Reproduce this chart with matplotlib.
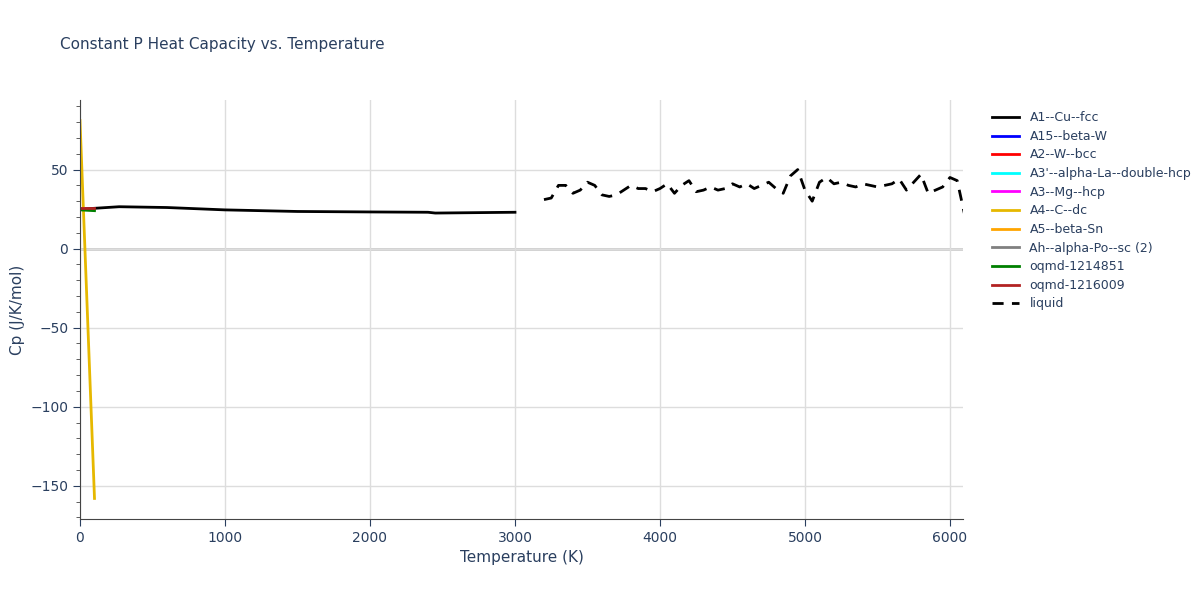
import matplotlib
matplotlib.use("Agg")
import matplotlib.pyplot as plt

fcc_T = [10, 100, 270, 600, 1000, 1500, 2000, 2400, 2450, 3000]
fcc_cp = [25, 25.5, 26.5, 26, 24.5, 23.5, 23.2, 23, 22.5, 23]
dc_T = [0, 100]
dc_cp = [81, -158]
o1_T = [0, 100]; o1_cp = [24.5, 24]
o2_T = [0, 100]; o2_cp = [25.5, 25.5]
liq_T = list(range(3200, 6101, 50))
liq_cp = [31, 32, 40, 40, 35, 37, 42, 40, 34, 33, 34, 37, 40, 38, 38, 36, 38, 41, 35, 40,
          43, 36, 37, 39, 37, 38, 41, 39, 41, 38, 40, 42, 38, 35, 46, 50, 37, 30, 42, 45,
          41, 42, 40, 39, 41, 40, 39, 40, 41, 44, 37, 42, 47, 35, 37, 39, 45, 43, 22]

fig = plt.figure(figsize=(12, 6), dpi=100)
ax = fig.add_axes([80/1200, 81/600, 883/1200, 419/600])
txt = '#2a3f5f'
for lbl, c in [("A1--Cu--fcc", None), ("A15--beta-W", "blue"), ("A2--W--bcc", "red"),
               ("A3'--alpha-La--double-hcp", "cyan"), ("A3--Mg--hcp", "magenta")]:
    if c:
        ax.plot([], [], color=c, label=lbl, lw=2)
    else:
        ax.plot(fcc_T, fcc_cp, color='black', label=lbl, lw=2)
ax.plot(dc_T, dc_cp, color='#e6b800', label="A4--C--dc", lw=2)
ax.plot([], [], color='orange', label="A5--beta-Sn", lw=2)
ax.plot([], [], color='gray', label="Ah--alpha-Po--sc (2)", lw=2)
ax.plot(o1_T, o1_cp, color='green', label="oqmd-1214851", lw=2)
ax.plot(o2_T, o2_cp, color='#b22222', label="oqmd-1216009", lw=2)
ax.plot(liq_T, liq_cp, color='black', ls=(0, (4, 3)), label="liquid", lw=2)

ax.set_xlim(0, 6090)
ax.set_ylim(-171, 94)
ax.set_xticks([0, 1000, 2000, 3000, 4000, 5000, 6000])
ax.set_yticks([-150, -100, -50, 0, 50])
ax.grid(color='#dddddd', lw=1)
ax.axhline(0, color='#cccccc', lw=2, zorder=0)
ax.set_axisbelow(True)
for s in ['top', 'right']:
    ax.spines[s].set_visible(False)
ax.spines['left'].set_color('#444444')
ax.spines['bottom'].set_color('#444444')
ax.minorticks_on()
ax.tick_params(which='minor', length=3, color='#444444')
ax.tick_params(which='major', length=5, colors=txt, labelsize=10)
ax.tick_params(axis='x', which='minor', bottom=False)
ax.set_xlabel("Temperature (K)", color=txt, fontsize=11)
ax.set_ylabel("Cp (J/K/mol)", color=txt, fontsize=11)
fig.text(60/1200, 1-45/600, "Constant P Heat Capacity vs. Temperature", color=txt, fontsize=11, va='center')
leg = ax.legend(loc='upper left', bbox_to_anchor=(1.02, 1.0), frameon=False, fontsize=9,
                handlelength=2.2, labelspacing=0.45)
for t in leg.get_texts():
    t.set_color(txt)
fig.savefig("out.png")
